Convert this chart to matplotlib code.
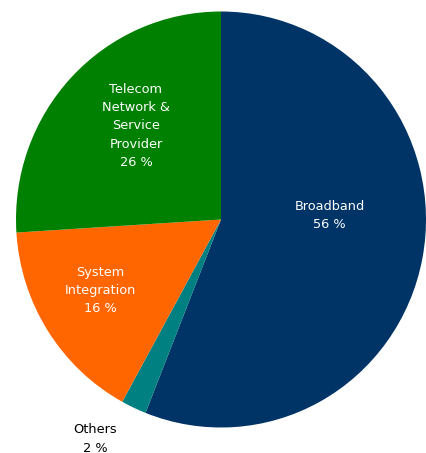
import matplotlib
matplotlib.use("Agg")
import matplotlib.pyplot as plt

# segment data (clockwise from 12 o'clock)
segments = ['Broadband', 'Others', 'System\nIntegration', 'Telecom\nNetwork &\nService\nProvider']
shares = [56, 2, 16, 26]
colors = ['#003366', '#008080', '#FF6600', '#008000']
text_colors = ['white', 'black', 'white', 'white']

# label anchor points in pie units (radius = 1)
label_pos = [(0.53, 0.02), (-0.614, -1.055), (-0.59, -0.34), (-0.415, 0.45)]

fig = plt.figure(figsize=(4.27, 4.53), dpi=100)
cx, cy, rx, ry = 221, 219.5, 205, 208
W, H = 427, 453
ax = fig.add_axes([(cx - rx) / W, (H - cy - ry) / H, 2 * rx / W, 2 * ry / H])

ax.pie(shares, colors=colors, startangle=90, counterclock=False,
       wedgeprops={'linewidth': 0, 'antialiased': True})

for name, val, (x, y), tc in zip(segments, shares, label_pos, text_colors):
    ax.text(x, y, f"{name}\n{val} %", ha='center', va='center', color=tc,
            fontsize=9.3, linespacing=1.52, family='DejaVu Sans', clip_on=False)

ax.set_xlim(-1, 1)
ax.set_ylim(-1, 1)
ax.set_aspect('auto')
ax.axis('off')

fig.savefig('out.png', dpi=100)
